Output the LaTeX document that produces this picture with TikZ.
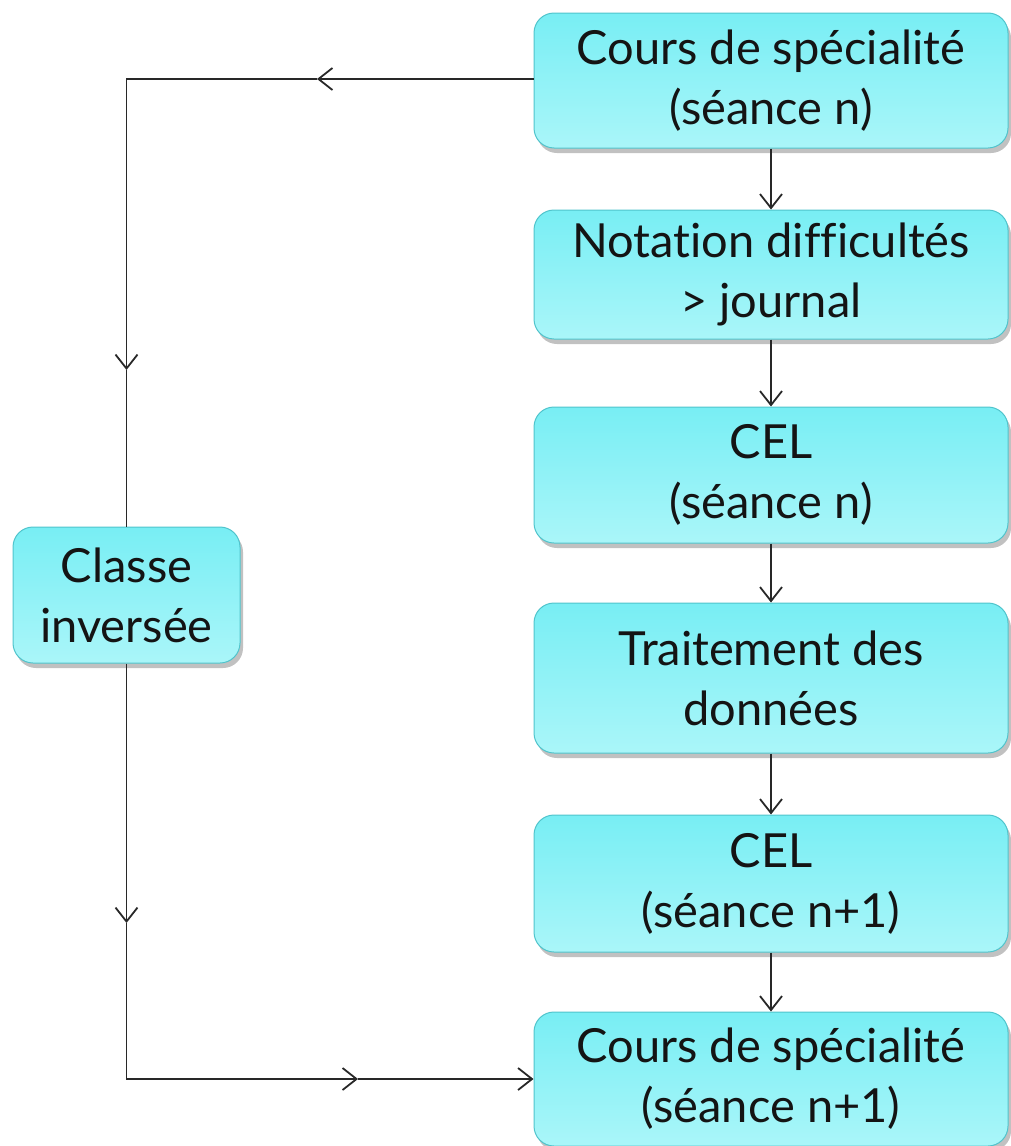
\documentclass[tikz,border=0pt]{standalone}
\usepackage{fontspec}
\setmainfont{Lato}[Ligatures=NoCommon]
\usetikzlibrary{arrows.meta,shadows,positioning}
\definecolor{boxtop}{RGB}{120,238,244}
\definecolor{boxbot}{RGB}{170,246,249}
\definecolor{boxedge}{RGB}{80,196,204}
\definecolor{linec}{RGB}{40,40,40}
\begin{document}
\begin{tikzpicture}[x=1pt,y=-1pt,
  stepbox/.style={rounded corners=20pt, draw=boxedge, line width=1pt,
    top color=boxtop, bottom color=boxbot,
    drop shadow={shadow xshift=3pt, shadow yshift=-5pt, opacity=0.35, fill=black!70},
    minimum width=474pt, align=center, inner sep=0pt,
    font=\fontsize{47}{60}\selectfont, text=black!92},
  link/.style={draw=linec, line width=1.8pt},
  arr/.style={link, -{Straight Barb[length=14pt,width=22pt,line width=1.8pt]}}]
\useasboundingbox (0,0) rectangle (1011,1146);
\node[stepbox, minimum height=135pt] (b1) at (771,80.5) {Cours de spécialité\\(séance n)};
\node[stepbox, minimum height=129pt] (b2) at (771,274.5) {Notation difficultés\\> journal};
\node[stepbox, minimum height=136pt] (b3) at (771,475) {CEL\\(séance n)};
\node[stepbox, minimum height=150pt] (b4) at (771,678) {Traitement des\\données};
\node[stepbox, minimum height=137pt] (b5) at (771,883.5) {CEL\\(séance n+1)};
\node[stepbox, minimum height=134pt] (b6) at (771,1079) {Cours de spécialité\\(séance n+1)};
\node[stepbox, minimum width=227pt, minimum height=136pt] (ci) at (126.5,595) {Classe\\inversée};
\coordinate (t1) at (317,79);
\coordinate (k1) at (126.5,79);
\coordinate (t2) at (126.5,370);
\coordinate (t3) at (126.5,923);
\coordinate (k2) at (126.5,1079);
\coordinate (t4) at (358,1079);
\draw[arr] (b1.west |- t1) -- (t1);
\draw[arr] (t1) -- (k1) -- (t2);
\draw[link] (t2) -- (ci.north);
\draw[arr] (ci.south) -- (t3);
\draw[arr] (t3) -- (k2) -- (t4);
\draw[arr] (t4) -- (b6.west);
\draw[arr] (b1) -- (b2);
\draw[arr] (b2) -- (b3);
\draw[arr] (b3) -- (b4);
\draw[arr] (b4) -- (b5);
\draw[arr] (b5) -- (b6);
\end{tikzpicture}
\end{document}
